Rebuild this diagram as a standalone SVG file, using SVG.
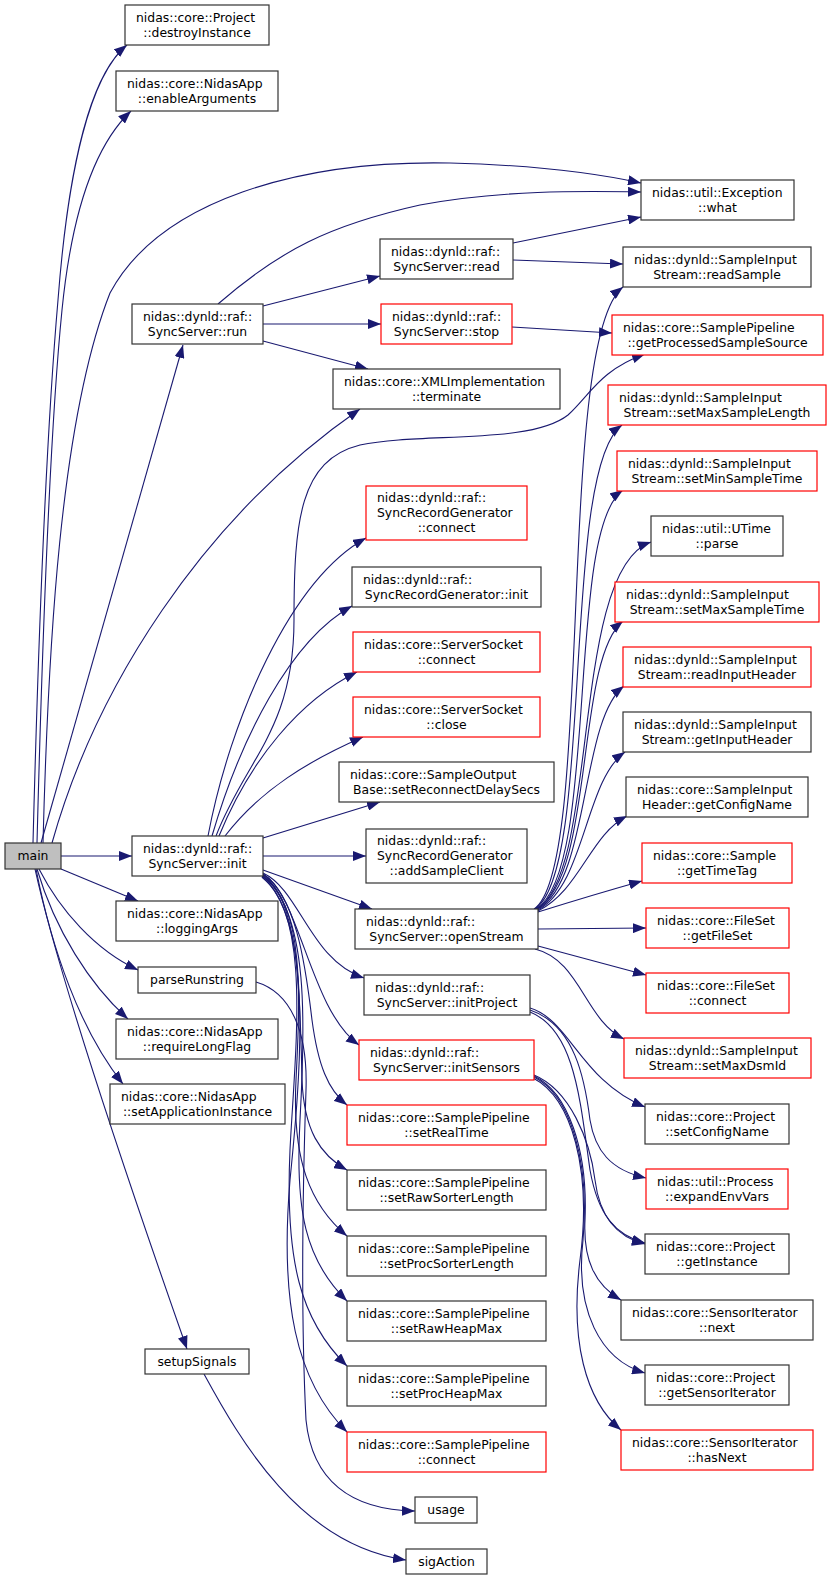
<svg xmlns="http://www.w3.org/2000/svg" width="832" height="1580" viewBox="0 0 832 1580">
<defs>
<marker id="a" markerUnits="userSpaceOnUse" markerWidth="13" markerHeight="10" refX="13" refY="5" orient="auto"><path d="M0,0 L13,5 L0,10 z" fill="#191970"/></marker>
<style>
rect{fill:#fff;stroke:#333;stroke-width:1.2}
.r rect{stroke:#f00}
#main rect{fill:#bfbfbf}
text{font-family:"DejaVu Sans",sans-serif;font-size:12.4px;fill:#000}
.m{text-anchor:middle}
#edges path{fill:none;stroke:#191970;stroke-width:1.1;marker-end:url(#a)}
</style>
</defs>
<rect x="0" y="0" width="832" height="1580" style="fill:#fff;stroke:none"/>
<g id="edges">
<path d="M 33,843 C 38,650 45,450 58,300 C 68,170 90,75 127,45"/>
<path d="M 37,843 C 42,650 50,430 62,310 C 72,210 95,145 131,111"/>
<path d="M 43,843 C 48,650 60,420 110,293 C 160,200 300,160 450,163 C 530,165 590,172 641,183"/>
<path d="M 41,843 L 183,345"/>
<path d="M 52,843 C 95,690 200,520 360,409"/>
<path d="M 61,856 L 132,856"/>
<path d="M 61,869 L 138,901"/>
<path d="M 39,869 C 60,910 95,950 138,970"/>
<path d="M 37,869 C 55,930 90,985 128,1019"/>
<path d="M 36,869 C 52,950 80,1030 123,1084"/>
<path d="M 35,869 C 55,960 110,1130 187,1349"/>
<path d="M 218,304 C 280,250 330,225 420,205 C 500,190 580,191 641,192"/>
<path d="M 263,306 L 380,276"/>
<path d="M 263,324 L 381,324"/>
<path d="M 263,341 L 368,369"/>
<path d="M 513,243 L 641,217"/>
<path d="M 513,260 C 560,262 590,263 623,264"/>
<path d="M 512,327 L 612,333"/>
<path d="M 208,836 C 230,720 290,580 366,538"/>
<path d="M 212,836 C 240,740 290,640 352,606"/>
<path d="M 216,836 C 245,760 294,730 294,620 C 294,520 300,460 360,445 C 420,432 530,445 568,415 C 590,395 600,370 645,354"/>
<path d="M 219,836 C 250,760 300,700 357,672"/>
<path d="M 225,836 C 260,790 310,760 363,737"/>
<path d="M 263,838 L 380,802"/>
<path d="M 263,856 L 366,856"/>
<path d="M 263,870 L 372,909"/>
<path d="M 263,873 C 300,890 310,960 364,978"/>
<path d="M 263,874 C 300,895 310,1010 359,1045"/>
<path d="M 263,874 C 295,895 305,960 312,1020 C 318,1065 328,1090 347,1105"/>
<path d="M 263,875 C 300,900 300,1000 302,1080 C 304,1130 320,1155 347,1170"/>
<path d="M 263,876 C 305,905 300,1000 296,1080 C 292,1160 310,1205 347,1236"/>
<path d="M 262,876 C 310,910 305,1030 300,1120 C 295,1210 305,1260 347,1301"/>
<path d="M 262,877 C 312,915 295,1050 290,1150 C 285,1260 300,1320 347,1366"/>
<path d="M 262,877 C 315,920 300,1080 290,1180 C 280,1300 295,1380 347,1432"/>
<path d="M 256,982 C 290,992 308,1030 306,1090 C 303,1180 300,1300 306,1420 C 312,1480 350,1510 415,1511"/>
<path d="M 204,1374 C 240,1440 300,1545 406,1560"/>
<path d="M 534,909 C 595,870 555,340 623,287"/>
<path d="M 535,909 C 595,870 560,470 622,425"/>
<path d="M 536,909 C 600,870 565,530 623,490"/>
<path d="M 537,909 C 600,870 570,570 651,542"/>
<path d="M 537,909 C 595,875 575,660 623,621"/>
<path d="M 538,909 C 590,880 580,720 624,686"/>
<path d="M 538,910 C 585,885 585,780 625,752"/>
<path d="M 538,911 C 580,890 590,835 627,816"/>
<path d="M 538,912 C 570,902 610,890 642,881"/>
<path d="M 538,929 L 646,928"/>
<path d="M 538,946 L 646,975"/>
<path d="M 535,949 C 580,960 585,1020 624,1039"/>
<path d="M 530,1008 C 570,1020 580,1080 645,1107"/>
<path d="M 530,1010 C 575,1025 585,1080 590,1120 C 595,1150 610,1170 646,1178"/>
<path d="M 530,1012 C 575,1030 580,1100 590,1170 C 598,1215 615,1235 645,1243"/>
<path d="M 534,1075 C 570,1090 590,1140 595,1180 C 600,1220 620,1238 645,1244"/>
<path d="M 534,1076 C 568,1092 588,1150 585,1220 C 583,1260 595,1285 621,1300"/>
<path d="M 534,1077 C 570,1095 590,1160 583,1240 C 575,1310 600,1360 645,1373"/>
<path d="M 533,1078 C 572,1098 592,1170 580,1260 C 570,1340 585,1400 621,1430"/>
</g>
<g id="main"><rect x="5" y="843" width="56" height="26"/><text class="m" x="33" y="860.2">main</text></g>
<g id="destroyInstance"><rect x="125" y="5" width="144" height="40"/><text x="136" y="21.7">nidas::core::Project</text><text class="m" x="197" y="36.7">::destroyInstance</text></g>
<g id="enableArguments"><rect x="116" y="71" width="162" height="40"/><text x="127" y="87.7">nidas::core::NidasApp</text><text class="m" x="197" y="102.7">::enableArguments</text></g>
<g id="what"><rect x="641" y="180" width="153" height="40"/><text x="652" y="196.7">nidas::util::Exception</text><text class="m" x="717.5" y="211.7">::what</text></g>
<g id="run"><rect x="132" y="304" width="131" height="40"/><text x="143" y="320.7">nidas::dynld::raf::</text><text class="m" x="197.5" y="335.7">SyncServer::run</text></g>
<g id="read"><rect x="380" y="239" width="133" height="40"/><text x="391" y="255.7">nidas::dynld::raf::</text><text class="m" x="446.5" y="270.7">SyncServer::read</text></g>
<g id="readSample"><rect x="623" y="247" width="188" height="40"/><text x="634" y="263.7">nidas::dynld::SampleInput</text><text class="m" x="717" y="278.7">Stream::readSample</text></g>
<g id="stop" class="r"><rect x="381" y="304" width="131" height="40"/><text x="392" y="320.7">nidas::dynld::raf::</text><text class="m" x="446.5" y="335.7">SyncServer::stop</text></g>
<g id="getProcessedSampleSource" class="r"><rect x="612" y="315" width="211" height="40"/><text x="623" y="331.7">nidas::core::SamplePipeline</text><text class="m" x="717.5" y="346.7">::getProcessedSampleSource</text></g>
<g id="terminate"><rect x="333" y="369" width="227" height="40"/><text x="344" y="385.7">nidas::core::XMLImplementation</text><text class="m" x="446.5" y="400.7">::terminate</text></g>
<g id="setMaxSampleLength" class="r"><rect x="608" y="385" width="218" height="40"/><text x="619" y="401.7">nidas::dynld::SampleInput</text><text class="m" x="717" y="416.7">Stream::setMaxSampleLength</text></g>
<g id="srgConnect" class="r"><rect x="366" y="486" width="161" height="54"/><text x="377" y="502.2">nidas::dynld::raf::</text><text x="377" y="517.2">SyncRecordGenerator</text><text class="m" x="446.5" y="532.2">::connect</text></g>
<g id="setMinSampleTime" class="r"><rect x="617" y="451" width="200" height="40"/><text x="628" y="467.7">nidas::dynld::SampleInput</text><text class="m" x="717" y="482.7">Stream::setMinSampleTime</text></g>
<g id="utimeParse"><rect x="651" y="516" width="132" height="40"/><text x="662" y="532.7">nidas::util::UTime</text><text class="m" x="717" y="547.7">::parse</text></g>
<g id="srgInit"><rect x="352" y="567" width="189" height="40"/><text x="363" y="583.7">nidas::dynld::raf::</text><text class="m" x="446.5" y="598.7">SyncRecordGenerator::init</text></g>
<g id="setMaxSampleTime" class="r"><rect x="615" y="582" width="204" height="40"/><text x="626" y="598.7">nidas::dynld::SampleInput</text><text class="m" x="717" y="613.7">Stream::setMaxSampleTime</text></g>
<g id="ssConnect" class="r"><rect x="353" y="632" width="187" height="40"/><text x="364" y="648.7">nidas::core::ServerSocket</text><text class="m" x="446.5" y="663.7">::connect</text></g>
<g id="readInputHeader" class="r"><rect x="623" y="647" width="188" height="40"/><text x="634" y="663.7">nidas::dynld::SampleInput</text><text class="m" x="717" y="678.7">Stream::readInputHeader</text></g>
<g id="ssClose" class="r"><rect x="353" y="697" width="187" height="40"/><text x="364" y="713.7">nidas::core::ServerSocket</text><text class="m" x="446.5" y="728.7">::close</text></g>
<g id="getInputHeader"><rect x="623" y="712" width="188" height="40"/><text x="634" y="728.7">nidas::dynld::SampleInput</text><text class="m" x="717" y="743.7">Stream::getInputHeader</text></g>
<g id="setReconnectDelaySecs"><rect x="339" y="762" width="215" height="40"/><text x="350" y="778.7">nidas::core::SampleOutput</text><text class="m" x="446.5" y="793.7">Base::setReconnectDelaySecs</text></g>
<g id="getConfigName"><rect x="626" y="777" width="182" height="40"/><text x="637" y="793.7">nidas::core::SampleInput</text><text class="m" x="717" y="808.7">Header::getConfigName</text></g>
<g id="init"><rect x="132" y="836" width="131" height="40"/><text x="143" y="852.7">nidas::dynld::raf::</text><text class="m" x="197.5" y="867.7">SyncServer::init</text></g>
<g id="addSampleClient"><rect x="366" y="829" width="161" height="54"/><text x="377" y="845.2">nidas::dynld::raf::</text><text x="377" y="860.2">SyncRecordGenerator</text><text class="m" x="446.5" y="875.2">::addSampleClient</text></g>
<g id="getTimeTag" class="r"><rect x="642" y="843" width="150" height="40"/><text x="653" y="859.7">nidas::core::Sample</text><text class="m" x="717" y="874.7">::getTimeTag</text></g>
<g id="loggingArgs"><rect x="116" y="901" width="162" height="40"/><text x="127" y="917.7">nidas::core::NidasApp</text><text class="m" x="197" y="932.7">::loggingArgs</text></g>
<g id="openStream"><rect x="355" y="909" width="183" height="40"/><text x="366" y="925.7">nidas::dynld::raf::</text><text class="m" x="446.5" y="940.7">SyncServer::openStream</text></g>
<g id="getFileSet" class="r"><rect x="646" y="908" width="143" height="40"/><text x="657" y="924.7">nidas::core::FileSet</text><text class="m" x="717.5" y="939.7">::getFileSet</text></g>
<g id="parseRunstring"><rect x="138" y="967" width="118" height="26"/><text class="m" x="197" y="984.2">parseRunstring</text></g>
<g id="initProject"><rect x="364" y="975" width="166" height="40"/><text x="375" y="991.7">nidas::dynld::raf::</text><text class="m" x="447" y="1006.7">SyncServer::initProject</text></g>
<g id="fileSetConnect" class="r"><rect x="646" y="973" width="143" height="40"/><text x="657" y="989.7">nidas::core::FileSet</text><text class="m" x="717.5" y="1004.7">::connect</text></g>
<g id="requireLongFlag"><rect x="116" y="1019" width="162" height="40"/><text x="127" y="1035.7">nidas::core::NidasApp</text><text class="m" x="197" y="1050.7">::requireLongFlag</text></g>
<g id="initSensors" class="r"><rect x="359" y="1040" width="175" height="40"/><text x="370" y="1056.7">nidas::dynld::raf::</text><text class="m" x="446.5" y="1071.7">SyncServer::initSensors</text></g>
<g id="setMaxDsmId" class="r"><rect x="624" y="1038" width="187" height="40"/><text x="635" y="1054.7">nidas::dynld::SampleInput</text><text class="m" x="717.5" y="1069.7">Stream::setMaxDsmId</text></g>
<g id="setApplicationInstance"><rect x="110" y="1084" width="175" height="40"/><text x="121" y="1100.7">nidas::core::NidasApp</text><text class="m" x="197.5" y="1115.7">::setApplicationInstance</text></g>
<g id="setRealTime" class="r"><rect x="347" y="1105" width="199" height="40"/><text x="358" y="1121.7">nidas::core::SamplePipeline</text><text class="m" x="446.5" y="1136.7">::setRealTime</text></g>
<g id="setConfigName"><rect x="645" y="1104" width="144" height="40"/><text x="656" y="1120.7">nidas::core::Project</text><text class="m" x="717" y="1135.7">::setConfigName</text></g>
<g id="setRawSorterLength"><rect x="347" y="1170" width="199" height="40"/><text x="358" y="1186.7">nidas::core::SamplePipeline</text><text class="m" x="446.5" y="1201.7">::setRawSorterLength</text></g>
<g id="expandEnvVars" class="r"><rect x="646" y="1169" width="142" height="40"/><text x="657" y="1185.7">nidas::util::Process</text><text class="m" x="717" y="1200.7">::expandEnvVars</text></g>
<g id="setProcSorterLength"><rect x="347" y="1236" width="199" height="40"/><text x="358" y="1252.7">nidas::core::SamplePipeline</text><text class="m" x="446.5" y="1267.7">::setProcSorterLength</text></g>
<g id="getInstance"><rect x="645" y="1234" width="144" height="40"/><text x="656" y="1250.7">nidas::core::Project</text><text class="m" x="717" y="1265.7">::getInstance</text></g>
<g id="setRawHeapMax"><rect x="347" y="1301" width="199" height="40"/><text x="358" y="1317.7">nidas::core::SamplePipeline</text><text class="m" x="446.5" y="1332.7">::setRawHeapMax</text></g>
<g id="sensorNext"><rect x="621" y="1300" width="192" height="40"/><text x="632" y="1316.7">nidas::core::SensorIterator</text><text class="m" x="717" y="1331.7">::next</text></g>
<g id="setupSignals"><rect x="145" y="1349" width="104" height="25"/><text class="m" x="197" y="1365.7">setupSignals</text></g>
<g id="setProcHeapMax"><rect x="347" y="1366" width="199" height="40"/><text x="358" y="1382.7">nidas::core::SamplePipeline</text><text class="m" x="446.5" y="1397.7">::setProcHeapMax</text></g>
<g id="getSensorIterator"><rect x="645" y="1365" width="144" height="40"/><text x="656" y="1381.7">nidas::core::Project</text><text class="m" x="717" y="1396.7">::getSensorIterator</text></g>
<g id="spConnect" class="r"><rect x="347" y="1432" width="199" height="40"/><text x="358" y="1448.7">nidas::core::SamplePipeline</text><text class="m" x="446.5" y="1463.7">::connect</text></g>
<g id="hasNext" class="r"><rect x="621" y="1430" width="192" height="40"/><text x="632" y="1446.7">nidas::core::SensorIterator</text><text class="m" x="717" y="1461.7">::hasNext</text></g>
<g id="usage"><rect x="415" y="1497" width="62" height="26"/><text class="m" x="446" y="1514.2">usage</text></g>
<g id="sigAction"><rect x="406" y="1549" width="81" height="25"/><text class="m" x="446.5" y="1565.7">sigAction</text></g>
</svg>
